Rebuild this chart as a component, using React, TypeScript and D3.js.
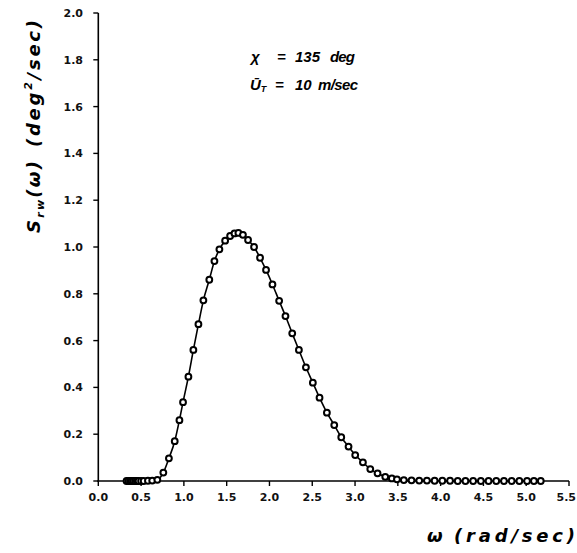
import React from "react";
import * as d3 from "d3";

const omega: number[] = [
  0.33, 0.35, 0.37, 0.39, 0.41, 0.43, 0.45, 0.47, 0.5, 0.53, 0.58, 0.63, 0.69,
  0.76, 0.825, 0.893, 0.948, 0.99, 1.053, 1.111, 1.17, 1.228, 1.297, 1.357,
  1.415, 1.482, 1.54, 1.591, 1.637, 1.69, 1.75, 1.82, 1.89, 1.96, 2.035,
  2.113, 2.187, 2.266, 2.344, 2.426, 2.507, 2.585, 2.671, 2.757, 2.839,
  2.924, 3.002, 3.092, 3.178, 3.263, 3.353, 3.43, 3.49, 3.57, 3.66, 3.75,
  3.84, 3.93, 4.02, 4.11, 4.2, 4.29, 4.38, 4.47, 4.56, 4.65, 4.74, 4.83,
  4.92, 5.01, 5.09, 5.17,
];
const spectrum: number[] = [
  0, 0, 0, 0, 0, 0, 0, 0, 0, 0, 0.001, 0.002, 0.005,
  0.036, 0.097, 0.17, 0.26, 0.337, 0.446, 0.56, 0.67, 0.772, 0.86, 0.94,
  0.99, 1.027, 1.047, 1.058, 1.06, 1.052, 1.03, 1.0, 0.954, 0.902, 0.84,
  0.77, 0.705, 0.631, 0.56, 0.486, 0.42, 0.356, 0.292, 0.239, 0.187,
  0.147, 0.111, 0.08, 0.051, 0.033, 0.018, 0.011, 0.007, 0.004, 0.003, 0.002,
  0.002, 0.001, 0.001, 0.001, 0, 0, 0, 0, 0, 0, 0, 0,
  0, 0, 0, 0,
];
const xTicks: number[] = [0, 0.5, 1, 1.5, 2, 2.5, 3, 3.5, 4, 4.5, 5, 5.5];
const yTicks: number[] = [0, 0.2, 0.4, 0.6, 0.8, 1.0, 1.2, 1.4, 1.6, 1.8, 2.0];

const W = 577;
const H = 553;

export default function App() {
  const x = d3.scaleLinear().domain([0, 5.5]).range([98.3, 569]);
  const y = d3.scaleLinear().domain([0, 2]).range([481, 13]);
  const pts = omega.map((w, i) => [w, spectrum[i]] as [number, number]);
  const line = d3
    .line<[number, number]>()
    .x((d) => x(d[0]))
    .y((d) => y(d[1]))
    .curve(d3.curveMonotoneX);

  const tickFont = "DejaVu Sans, sans-serif";
  const labFont = "Liberation Sans, Arial, sans-serif";
  const bigFont = "DejaVu Sans, sans-serif";

  return (
    <svg
      width={W}
      height={H}
      viewBox={`0 0 ${W} ${H}`}
      style={{ position: "absolute", left: 0, top: 0, background: "#fff" }}
    >
      <rect x={0} y={0} width={W} height={H} fill="#fff" />
      {/* axes */}
      <line x1={x(0)} x2={x(0)} y1={y(2)} y2={y(0) + 1} stroke="#000" strokeWidth={1.6} />
      <line x1={x(0) - 1} x2={x(5.5)} y1={y(0)} y2={y(0)} stroke="#000" strokeWidth={1.6} />
      {yTicks.map((t) => (
        <g key={"y" + t}>
          <line x1={x(0) - 5} x2={x(0)} y1={y(t)} y2={y(t)} stroke="#000" strokeWidth={1.4} />
          <text
            x={83}
            y={y(t)}
            dy="0.36em"
            textAnchor="end"
            fontFamily={tickFont}
            fontWeight="bold"
            fontSize={11}
            fill="#111"
          >
            {t.toFixed(1)}
          </text>
        </g>
      ))}
      {xTicks.map((t, i) => (
        <g key={"x" + t}>
          <line x1={x(t)} x2={x(t)} y1={y(0)} y2={y(0) + 5} stroke="#000" strokeWidth={1.4} />
          <text
            x={i === xTicks.length - 1 ? 576 : x(t)}
            y={501}
            textAnchor={i === xTicks.length - 1 ? "end" : "middle"}
            fontFamily={tickFont}
            fontWeight="bold"
            fontSize={11}
            fill="#111"
          >
            {t.toFixed(1)}
          </text>
        </g>
      ))}

      {/* curve */}
      <path d={line(pts) || ""} fill="none" stroke="#000" strokeWidth={1.6} />
      {pts.map((p, i) => (
        <circle
          key={i}
          cx={x(p[0])}
          cy={y(p[1])}
          r={2.9}
          fill="#fff"
          stroke="#000"
          strokeWidth={2}
        />
      ))}

      {/* annotation */}
      <g fontFamily={labFont} fontWeight="bold" fontStyle="italic" fontSize={15} fill="#000">
        <text x={251} y={62}>χ</text>
        <text x={277} y={62}>=</text>
        <text x={295} y={62}>135</text>
        <text x={330} y={62} textLength={25} lengthAdjust="spacing">deg</text>
        <text x={250} y={90}>
          Ū
          <tspan fontSize={9} dy={2}>T</tspan>
        </text>
        <text x={275} y={90}>=</text>
        <text x={295} y={90}>10</text>
        <text x={318} y={90} textLength={40} lengthAdjust="spacing">m/sec</text>
      </g>

      {/* x label */}
      <g fontFamily={bigFont} fontWeight="bold" fontStyle="italic" fontSize={18} fill="#000">
        <text x={427} y={542}>ω</text>
        <text x={454} y={542} textLength={121} lengthAdjust="spacing">(rad/sec)</text>
      </g>

      {/* y label */}
      <g
        transform="translate(40,0) rotate(-90)"
        fontFamily={bigFont}
        fontWeight="bold"
        fontStyle="italic"
        fontSize={18}
        fill="#000"
      >
        <text x={-233} y={0} textLength={72} lengthAdjust="spacing">
          S<tspan fontSize={11} dy={4}>rw</tspan>
          <tspan dy={-4}>(ω)</tspan>
        </text>
        <text x={-147} y={0} textLength={127} lengthAdjust="spacing">
          (deg<tspan fontSize={11} dy={-8}>2</tspan>
          <tspan dy={8}>/sec)</tspan>
        </text>
      </g>
    </svg>
  );
}
